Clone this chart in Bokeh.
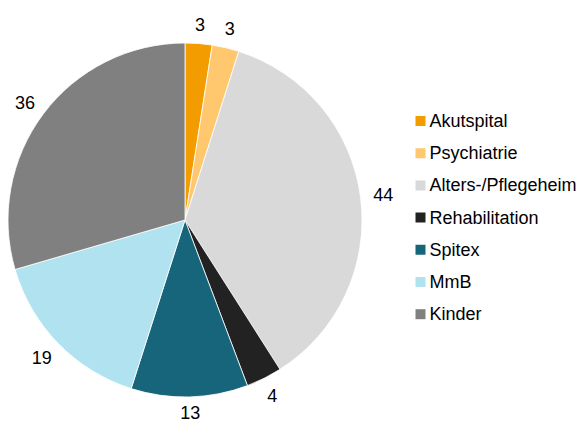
import math
from bokeh.plotting import figure
from bokeh.models import Range1d, ColumnDataSource
from bokeh.core.properties import value
from bokeh.embed import file_html
from bokeh.resources import INLINE

categories = ["Akutspital", "Psychiatrie", "Alters-/Pflegeheim", "Rehabilitation", "Spitex", "MmB", "Kinder"]
values = [3, 3, 44, 4, 13, 19, 36]
colors = ["#F39C00", "#FFC76E", "#D9D9D9", "#222222", "#17657A", "#B0E3EF", "#808080"]

W, H = 580, 423
# data coordinates = picture pixels, y flipped (page y -> H - y)
p = figure(width=W, height=H, output_backend="svg", toolbar_location=None,
           x_range=Range1d(0, W), y_range=Range1d(0, H),
           min_border=0, outline_line_color=None)
p.axis.visible = False
p.grid.visible = False
p.background_fill_color = "white"
p.border_fill_color = "white"

cx, cy, R = 184.5, H - 219.5, 177
total = sum(values)
starts, ends, mids = [], [], []
c = 0
for v in values:
    a0 = math.pi / 2 - 2 * math.pi * c / total
    a1 = math.pi / 2 - 2 * math.pi * (c + v) / total
    starts.append(a0)
    ends.append(a1)
    mids.append((a0 + a1) / 2)
    c += v

src = ColumnDataSource(dict(start=starts, end=ends, color=colors))
p.wedge(x=cx, y=cy, radius=R, start_angle="start", end_angle="end", direction="clock",
        fill_color="color", line_color="white", line_width=0.8, source=src)

# outside-end data labels: text box touches a circle slightly outside the pie
gap, digit_w, txt_h = 13, 10, 13
lx_, ly_, lt_ = [], [], []
for v, m in zip(values, mids):
    t = str(v)
    ca, sa = math.cos(m), math.sin(m)
    ax, ay = cx + (R + gap) * ca, cy + (R + gap) * sa
    lx_.append(ax + digit_w * len(t) / 2 * ca)
    ly_.append(max(ay + txt_h / 2 * sa, 11.5))  # keep label inside the picture
    lt_.append(t)
lab = ColumnDataSource(dict(x=lx_, y=ly_, t=lt_))
p.text(x="x", y="y", text="t", source=lab, text_align="center", text_baseline="middle",
       text_font=value("Liberation Sans"), text_font_size="18px", text_color="#000000")

# legend
lx, ly0, step = 420, H - 120.5, 32.2
leg = ColumnDataSource(dict(x=[lx] * len(categories),
                            tx=[lx + 9] * len(categories),
                            y=[ly0 - i * step for i in range(len(categories))],
                            t=categories, color=colors))
p.scatter(x="x", y="y", marker="square", size=10, fill_color="color", line_color=None, source=leg)
p.text(x="tx", y="y", text="t", source=leg, text_align="left", text_baseline="middle",
       text_font=value("Liberation Sans"), text_font_size="18px", text_color="#000000")

open("out.html", "w").write(file_html(p, INLINE))
